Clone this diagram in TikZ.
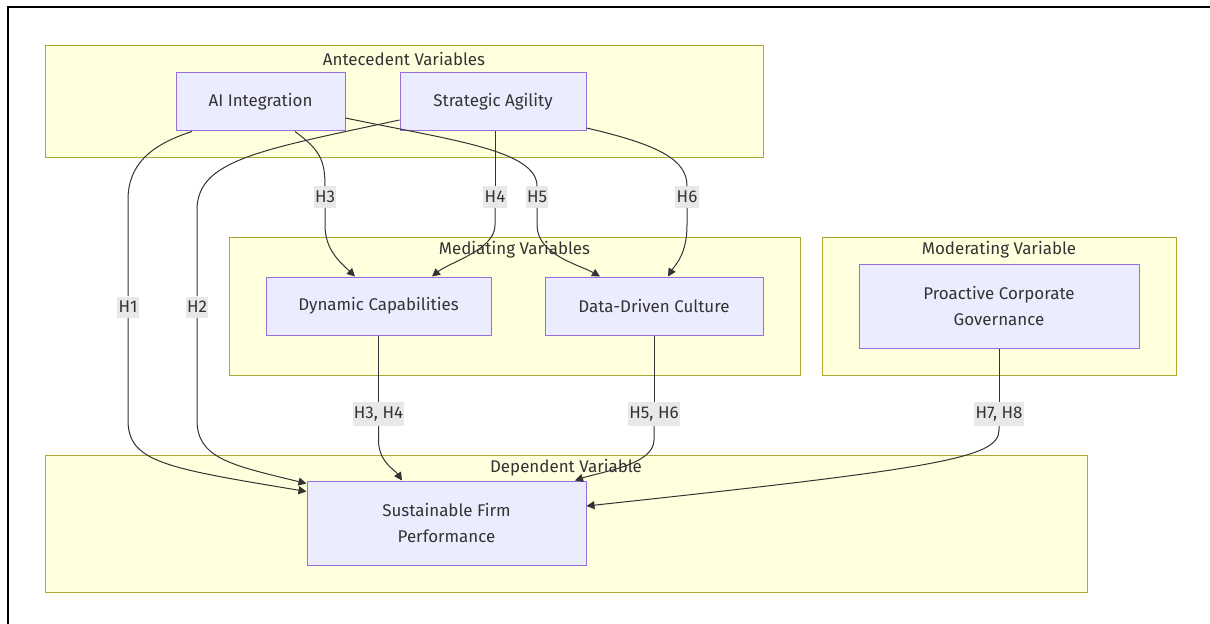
\documentclass[tikz,border=0pt]{standalone}
\usepackage{fontspec}
\setmainfont{Fira Sans}
\usetikzlibrary{arrows.meta,calc}
\definecolor{clusterfill}{HTML}{FFFFDE}
\definecolor{clusterline}{HTML}{AAAA33}
\definecolor{boxfill}{HTML}{ECECFF}
\definecolor{boxline}{HTML}{9370DB}
\definecolor{inkgrey}{HTML}{333333}
\definecolor{labelfill}{HTML}{E8E8E8}
\begin{document}
\begin{tikzpicture}[x=0.75pt,y=-0.75pt,
		cluster/.style={fill=clusterfill,draw=clusterline,line width=0.75pt},
		title/.style={text=inkgrey,font=\fontsize{12.7}{14}\selectfont},
		box/.style={fill=boxfill,draw=boxline,line width=0.75pt,text=inkgrey,align=center,
			font=\fontsize{12.7}{19.5}\selectfont,minimum height=43.5pt},
		hyp/.style={fill=labelfill,text=inkgrey,font=\fontsize{12.7}{14}\selectfont,
			inner xsep=1pt,inner ysep=3.5pt},
		seg/.style={draw=inkgrey,line width=0.75pt},
		arr/.style={seg,-{Triangle[length=6pt,width=6pt]}}]
		\useasboundingbox (0,0) rectangle (1210,624);
		\draw[line width=1.8pt] (8,624)--(8,7)--(1210,7);
		% clusters
		\draw[cluster] (45,46) rectangle (763,158);
		\draw[cluster] (229,237) rectangle (800,375);
		\draw[cluster] (822,237) rectangle (1176,375);
		\draw[cluster] (45,455) rectangle (1087,592);
		\node[title] (tante) at (404,59) {Antecedent Variables};
		\node[title] (tmed) at (514.5,250) {Mediating Variables};
		\node[title] (tmod) at (999,250) {Moderating Variable};
		\node[title] (tdep) at (566,468) {Dependent Variable};
		% variables
		\node[box,minimum width=126.75pt] (ai) at (260.5,102) {AI Integration};
		\node[box,minimum width=139.5pt] (sa) at (493,102) {Strategic Agility};
		\node[box,minimum width=168.75pt] (dc) at (378.5,306) {Dynamic Capabilities};
		\node[box,minimum width=163.5pt] (ddc) at (654,306) {Data-Driven Culture};
		\node[box,minimum width=210pt,minimum height=63pt] (pcg) at (999,306) {Proactive Corporate\\Governance};
		\node[box,minimum width=209.25pt,minimum height=63pt] (sfp) at (446.5,523) {Sustainable Firm\\Performance};
		% hypothesis labels
		\node[hyp] (h1) at (128,307) {H1};
		\node[hyp] (h2) at (197,307) {H2};
		\node[hyp] (h3) at (325,197) {H3};
		\node[hyp] (h4) at (495,197) {H4};
		\node[hyp] (h5) at (537,197) {H5};
		\node[hyp] (h6) at (687,197) {H6};
		\node[hyp] (h34) at (378.5,414) {H3, H4};
		\node[hyp] (h56) at (654,414) {H5, H6};
		\node[hyp] (h78) at (999,414) {H7, H8};
		% edges
		\draw[seg] ($(ai.south)+(-68.5,0)$) .. controls (150,145) and (128,165) .. (128,200) -- (h1.north);
		\draw[arr] (h1.south) -- (128,420) .. controls (128,462) and (165,468) .. ($(sfp.north west)+(0,11)$);
		\draw[seg] ($(sa.west)+(0,18)$) .. controls (260,150) and (197,160) .. (197,210) -- (h2.north);
		\draw[arr] (h2.south) -- (197,420) .. controls (197,458) and (230,465) .. ($(sfp.north west)+(0,3)$);
		\draw[seg] ($(ai.south)+(34.5,0)$) .. controls (320,150) and (325,160) .. (h3.north);
		\draw[arr] (h3.south) -- (325,225) .. controls (325,250) and (340,262) .. ($(dc.north)+(-23.5,0)$);
		\draw[seg] ($(sa.south)+(2,0)$) -- (h4.north);
		\draw[arr] (h4.south) -- (495,225) .. controls (495,250) and (450,262) .. ($(dc.north)+(53.5,0)$);
		\draw[seg] ($(ai.east)+(0,16)$) .. controls (450,140) and (537,150) .. (h5.north);
		\draw[arr] (h5.south) -- (537,225) .. controls (537,255) and (580,265) .. ($(ddc.north)+(-54,0)$);
		\draw[seg] ($(sa.east)+(0,26)$) .. controls (660,145) and (687,160) .. (h6.north);
		\draw[arr] (h6.south) -- (687,225) .. controls (687,255) and (675,265) .. ($(ddc.north)+(14,0)$);
		\draw[seg] (dc.south) -- (h34.north);
		\draw[arr] (h34.south) -- (378.5,440) .. controls (378.5,462) and (395,470) .. ($(sfp.north)+(-44.5,0)$);
		\draw[seg] (ddc.south) -- (h56.north);
		\draw[arr] (h56.south) -- (654,440) .. controls (654,465) and (600,472) .. ($(sfp.north)+(128.5,0)$);
		\draw[seg] (pcg.south) -- (h78.north);
		\draw[arr] (h78.south) -- (999,430) .. controls (999,458) and (940,468) .. ($(sfp.east)+(0,-17)$);
	\end{tikzpicture}
\end{document}
